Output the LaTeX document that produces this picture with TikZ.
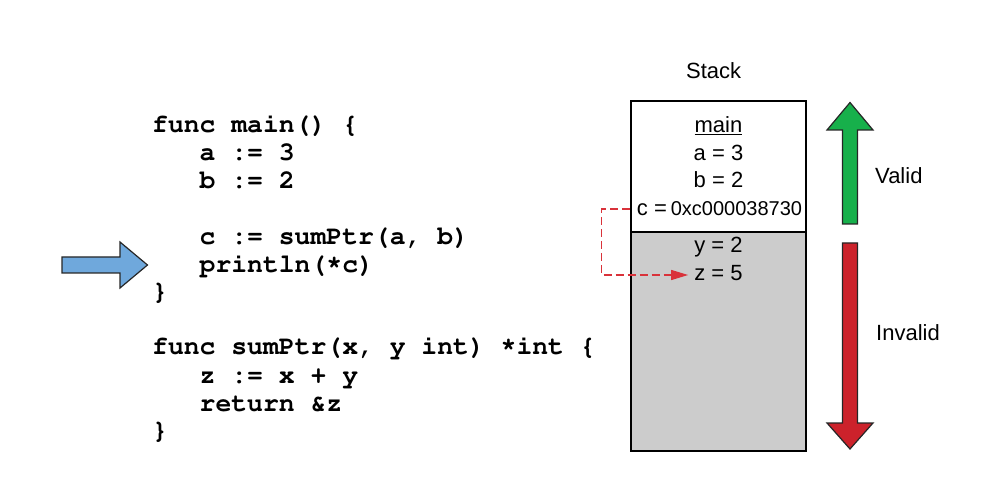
\documentclass[tikz,border=0pt]{standalone}
\usepackage{fontspec}
\setmainfont{Liberation Sans}
\newcommand\codefont{\fontencoding{T1}\fontfamily{pcr}\fontseries{b}\selectfont}
\newcommand\ster{\raisebox{4pt}{*}}
\usetikzlibrary{arrows.meta}

\definecolor{pijlblauw}{HTML}{6FA8DC}
\definecolor{pijlgroen}{HTML}{17B04B}
\definecolor{pijlrood}{HTML}{CC222B}
\definecolor{streeprood}{HTML}{D9323A}
\definecolor{grijs}{HTML}{CCCCCC}

\tikzstyle{code} = [anchor=base west, inner sep=0pt, font=\codefont\fontsize{26.4}{28}\selectfont]
\tikzstyle{cel} = [anchor=base, inner sep=0pt, font=\fontsize{22}{24}\selectfont]
\tikzstyle{label} = [anchor=base west, inner sep=0pt, font=\fontsize{22}{24}\selectfont]
\tikzstyle{blok} = [draw=black!85, line width=1.2pt, line join=miter]

\begin{document}
\begin{tikzpicture}[x=1pt, y=-1pt]
\useasboundingbox (0,0) rectangle (996,478);

\node[code] (l1) at (152,133) {func main() \{};
\node[code] (l2) at (199.5,161) {a := 3};
\node[code] (l3) at (199.5,189) {b := 2};
\node[code] (l4) at (199.5,245) {c := sumPtr(a, b)};
\node[code] (l5) at (199.5,273) {println(\ster c)};
\node[code] (l6) at (152,300) {\}};
\node[code] (l7) at (152,355) {func sumPtr(x, y int) \ster int \{};
\node[code] (l8) at (199.5,383) {z := x + y};
\node[code] (l9) at (199.5,411) {return \&z};
\node[code] (l10) at (152,438) {\}};

\draw[blok, fill=pijlblauw] (62,257) -- (120,257) -- (120,242) -- (147.5,265)
    -- (120,288) -- (120,273) -- (62,273) -- cycle;

\node[label] (stacktitel) at (686,79) {Stack};
\draw[line width=1.2pt, fill=white] (631,101) rectangle (806,232);
\draw[line width=1.2pt, fill=grijs] (631,232) rectangle (806,451);

\node[cel] (main) at (718.5,133) {\underline{main}};
\node[cel] (aval) at (718.5,161) {a = 3};
\node[cel] (bval) at (718.5,188) {b = 2};
\node[cel] (cval) at (719.5,216) {c =\hspace{4pt}{\fontsize{20}{22}\selectfont 0xc000038730}};
\node[cel] (yval) at (718.5,253) {y = 2};
\node[cel] (zval) at (718.5,281) {z = 5};

\draw[streeprood, line width=1.2pt, dash pattern=on 8pt off 4pt,
      -{Triangle[length=17pt, width=10pt]}]
    ([xshift=-7pt, yshift=7pt]cval.base west) -- ++(-28,0)
    |- ([xshift=-6pt, yshift=6pt]zval.base west);

\draw[blok, fill=pijlgroen] (842.5,224) -- (842.5,130) -- (827,130) -- (850,102.5)
    -- (873,130) -- (857.5,130) -- (857.5,224) -- cycle;
\draw[blok, fill=pijlrood] (842.5,243) -- (842.5,423) -- (827,423) -- (850,449)
    -- (873,423) -- (857.5,423) -- (857.5,243) -- cycle;

\node[label] (valid) at (875,184) {Valid};
\node[label] (invalid) at (876,341) {Invalid};
\end{tikzpicture}
\end{document}
